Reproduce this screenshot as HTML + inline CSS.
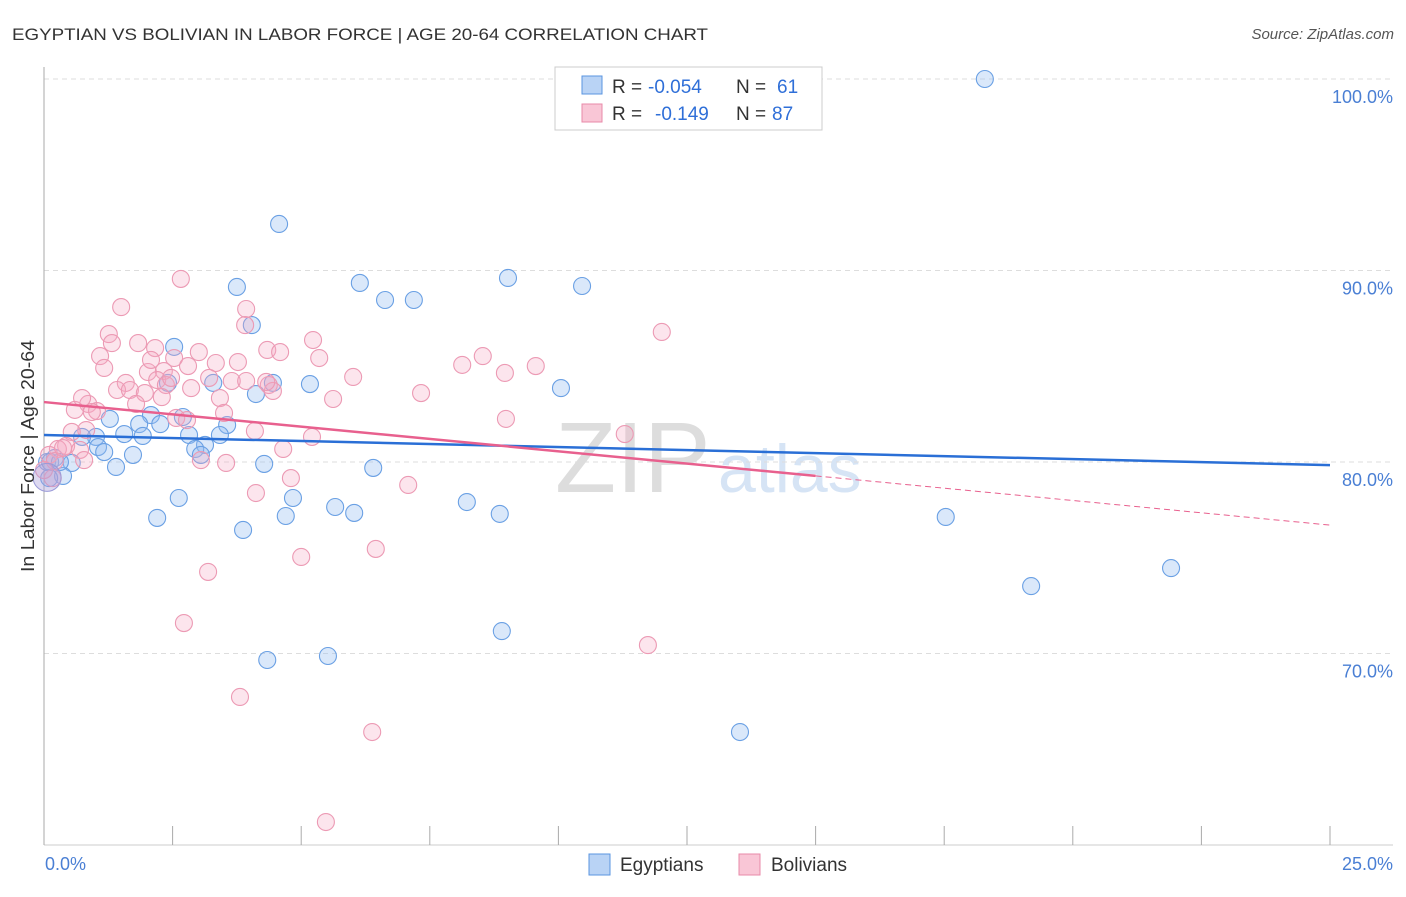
<!DOCTYPE html>
<html><head><meta charset="utf-8"><style>
body{margin:0;background:#fff;font-family:"Liberation Sans",sans-serif}
svg text{font-family:"Liberation Sans",sans-serif}
</style></head><body>
<svg id="chart" width="1406" height="892">
<text x="12" y="40" font-size="17" fill="#333" textLength="696" lengthAdjust="spacingAndGlyphs">EGYPTIAN VS BOLIVIAN IN LABOR FORCE | AGE 20-64 CORRELATION CHART</text>
<text x="1394" y="39" font-size="15" fill="#555" font-style="italic" text-anchor="end">Source: ZipAtlas.com</text>
<text x="555" y="492" font-size="100" fill="#ddd" font-family="Liberation Serif">ZIP</text>
<text x="718" y="492" font-size="68" fill="#d6e4f5">atlas</text>
<g id="grid"></g><g id="axes"></g><g id="marks"></g><g id="trends"></g>
<text transform="translate(34,456) rotate(-90)" font-size="18" fill="#333" text-anchor="middle" textLength="232" lengthAdjust="spacingAndGlyphs">In Labor Force | Age 20-64</text>
<text x="45" y="870" font-size="18" fill="#4a7fd4">0.0%</text>
<text x="1393" y="870" font-size="18" fill="#4a7fd4" text-anchor="end">25.0%</text>
<g>
<rect x="555" y="67" width="267" height="63" fill="#fff" stroke="#ccc"/>
<rect x="582" y="76" width="20" height="18" fill="#b9d3f5" stroke="#5a95e0"/>
<rect x="582" y="104" width="20" height="18" fill="#f9c6d6" stroke="#e88aa8"/>
<text x="612" y="93" font-size="19" fill="#333">R =</text>
<text x="648" y="93" font-size="19" fill="#2f6fd8">-0.054</text>
<text x="736" y="93" font-size="19" fill="#333">N =</text>
<text x="777" y="93" font-size="19" fill="#2f6fd8">61</text>
<text x="612" y="120" font-size="19" fill="#333">R =</text>
<text x="655" y="120" font-size="19" fill="#2f6fd8">-0.149</text>
<text x="736" y="120" font-size="19" fill="#333">N =</text>
<text x="772" y="120" font-size="19" fill="#2f6fd8">87</text>
</g>
<g>
<rect x="589" y="854" width="21" height="21" fill="#b9d3f5" stroke="#5a95e0"/>
<text x="620" y="871" font-size="19" fill="#333">Egyptians</text>
<rect x="739" y="854" width="21" height="21" fill="#f9c6d6" stroke="#e88aa8"/>
<text x="771" y="871" font-size="19" fill="#333">Bolivians</text>
</g>
</svg>
<script>
const yTicks=[100,90,80,70];
const yTickLabels=["100.0%","90.0%","80.0%","70.0%"];
const xTicks=[0,2.5,5,7.5,10,12.5,15,17.5,20,22.5,25];
const egyptX=[18.29,4.57,3.75,6.14,6.63,7.19,9.02,10.46,4.04,2.53,3.29,4.45,5.17,4.12,10.05,2.41,2.70,2.08,1.28,1.85,2.26,3.56,1.56,1.92,2.82,3.13,3.42,1.01,0.74,1.05,1.17,1.73,2.94,3.05,0.54,1.40,0.21,0.06,0.37,0.10,4.28,6.40,2.62,4.84,2.20,4.70,5.66,6.03,8.22,8.86,3.87,17.53,19.19,21.91,8.90,4.34,5.52,13.53,0.12,0.31];
const egyptY=[100,92.43,89.14,89.35,88.46,88.46,89.61,89.19,87.15,86.01,84.13,84.13,84.07,83.55,83.86,84.13,82.35,82.45,82.25,81.98,81.98,81.93,81.46,81.36,81.41,80.89,81.41,81.31,81.31,80.78,80.52,80.37,80.68,80.37,79.95,79.74,80.21,80.0,79.27,79.16,79.90,79.69,78.12,78.12,77.08,77.18,77.65,77.34,77.91,77.29,76.45,77.13,73.52,74.46,71.17,69.66,69.87,65.90,80.0,80.0];
const bolX=[2.66,1.50,3.93,1.26,1.32,1.83,2.16,2.53,1.09,2.80,3.01,3.34,1.17,2.02,2.33,1.59,1.42,1.67,1.96,2.20,2.37,2.86,3.21,3.65,3.93,3.42,2.29,1.79,0.86,0.60,1.03,2.57,2.78,3.50,3.77,4.34,4.59,5.23,5.35,6.01,5.62,4.37,4.45,4.32,7.33,8.13,8.53,8.96,9.56,8.98,12.01,11.29,4.10,4.65,5.21,3.05,3.54,0.82,0.54,0.43,0.70,0.27,0.10,0.21,0.37,0.78,4.12,4.80,7.08,5.00,6.45,3.19,2.72,3.81,6.38,5.48,11.74,3.91,2.08,2.47,0.74,0.93,0.17,0];
const bolY=[89.56,88.09,87.99,86.68,86.21,86.21,85.95,85.43,85.53,85.01,85.74,85.17,84.91,84.70,84.75,84.13,83.76,83.76,83.60,84.28,84.02,83.86,84.39,84.23,84.23,83.34,83.39,83.03,83.03,82.72,82.66,82.30,82.19,82.56,85.22,85.85,85.74,86.37,85.43,84.44,83.29,84.02,83.71,84.18,83.60,85.07,85.53,84.65,85.01,82.25,86.79,81.46,81.62,80.68,81.31,80.10,79.95,81.67,81.57,80.84,80.63,80.68,80.37,80.05,80.73,80.10,78.38,79.16,78.80,75.04,75.46,74.26,71.59,67.73,65.90,61.20,70.44,87.15,85.33,84.39,83.34,82.61,79.16,79.58];
const egyptTrend=[81.41,-0.063];
const bolTrend=[83.13,-0.257];
const bolSolidEnd=15;
const NS="http://www.w3.org/2000/svg";
const X=v=>44+v*51.44, Y=v=>79+(100-v)*19.15;
function mk(tag,attrs,parent){const e=document.createElementNS(NS,tag);for(const k in attrs)e.setAttribute(k,attrs[k]);document.getElementById(parent).appendChild(e);return e;}
yTicks.forEach((t,i)=>{
 const l=mk('line',{x1:44,x2:1393,y1:Y(t),y2:Y(t),stroke:'#ddd','stroke-dasharray':'5,4'},'grid');
 
 
 const tx=mk('text',{x:1393,y:Y(t)+24,'font-size':18,fill:'#4a7fd4','text-anchor':'end'},'grid');
 tx.textContent=yTickLabels[i];
 
 
});
const ax=mk('line',{x1:44,x2:44,y1:67,y2:845,stroke:'#aaa'},'axes');


const bx=mk('line',{x1:44,x2:1393,y1:845,y2:845,stroke:'#ccc'},'axes');


xTicks.forEach(t=>{
 const l=mk('line',{x1:X(t),x2:X(t),y1:826,y2:845,stroke:'#aaa'},'axes');
 
 
});
egyptX.forEach((v,i)=>{
 const c=mk('circle',{cx:X(v),cy:Y(egyptY[i]),r:8.5,fill:'rgba(150,190,240,0.35)',stroke:'#6aa0e4','stroke-width':1.1},'marks');
 
 
});
bolX.forEach((v,i)=>{
 const c=mk('circle',{cx:X(v),cy:Y(bolY[i]),r:8.5,fill:'rgba(245,170,195,0.3)',stroke:'#ec9ab4','stroke-width':1.1},'marks');
 
 
});
const big=mk('circle',{cx:X(0.06),cy:Y(79.2),r:14,fill:'rgba(170,160,220,0.4)',stroke:'#9a9ad8','stroke-width':1},'marks');


const bt=mk('line',{x1:X(0),y1:Y(egyptTrend[0]),x2:X(25),y2:Y(egyptTrend[0]+egyptTrend[1]*25),stroke:'#2a6fd6','stroke-width':2.5},'trends');


const pt=mk('line',{x1:X(0),y1:Y(bolTrend[0]),x2:X(bolSolidEnd),y2:Y(bolTrend[0]+bolTrend[1]*bolSolidEnd),stroke:'#e8608e','stroke-width':2.5},'trends');


const pd=mk('line',{x1:X(bolSolidEnd),y1:Y(bolTrend[0]+bolTrend[1]*bolSolidEnd),x2:X(25),y2:Y(bolTrend[0]+bolTrend[1]*25),stroke:'#e8608e','stroke-width':1,'stroke-dasharray':'6,4'},'trends');


</script>
</body></html>
